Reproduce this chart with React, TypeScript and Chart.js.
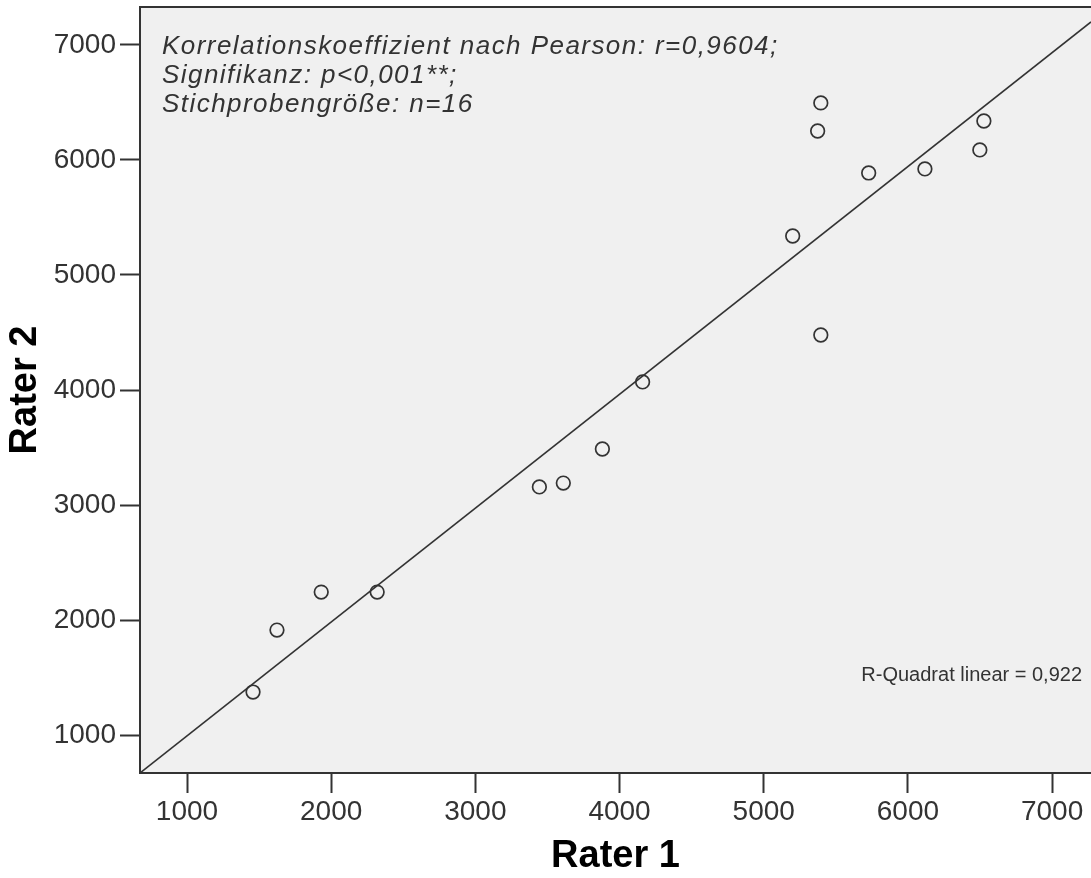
import React, { useEffect, useRef } from "react";
import { Chart, registerables } from "chart.js";

Chart.register(...registerables);

const rater1 = [1458, 1624, 1931, 2319, 3444, 3610, 3881, 4160, 5201, 5374, 5396, 5396, 5728, 6118, 6499, 6527];
const rater2 = [1374, 1913, 2243, 2243, 3157, 3191, 3487, 4070, 5339, 6252, 6496, 4478, 5887, 5922, 6087, 6339];
const fitX = [674, 7270];
const fitY = [670, 7200];
const xTickValues = [1000, 2000, 3000, 4000, 5000, 6000, 7000];
const yTickValues = [1000, 2000, 3000, 4000, 5000, 6000, 7000];
const xRange = [674, 7270];
const yRange = [670, 7330];
const xTitle = "Rater 1";
const yTitle = "Rater 2";
const annotationLines = [
  "Korrelationskoeffizient nach Pearson: r=0,9604;",
  "Signifikanz: p<0,001**;",
  "Stichprobengröße: n=16",
];
const rSquaredLabel = "R-Quadrat linear = 0,922";

const FONT = "'Liberation Sans', Arial, sans-serif";
const INK = "#333333";

const framePlugin = {
  id: "frame",
  beforeDraw(chart: any) {
    const { ctx, chartArea: a } = chart;
    ctx.save();
    ctx.fillStyle = "#f0f0f0";
    ctx.fillRect(a.left, a.top, a.right - a.left, a.bottom - a.top);
    ctx.restore();
  },
  afterDraw(chart: any) {
    const { ctx, chartArea: a } = chart;
    ctx.save();
    ctx.strokeStyle = INK;
    ctx.lineWidth = 2;
    ctx.beginPath();
    ctx.moveTo(a.left - 1, a.top);
    ctx.lineTo(a.right + 2, a.top);
    ctx.stroke();

    ctx.fillStyle = INK;
    ctx.textAlign = "left";
    ctx.textBaseline = "alphabetic";
    ctx.font = `italic 26px ${FONT}`;
    try {
      (ctx as any).letterSpacing = "1.45px";
    } catch (e) {}
    annotationLines.forEach((line, i) => {
      ctx.fillText(line, a.left + 22, a.top + 47 + i * 29);
    });
    try {
      (ctx as any).letterSpacing = "0px";
    } catch (e) {}

    ctx.font = `20px ${FONT}`;
    ctx.textAlign = "right";
    ctx.fillText(rSquaredLabel, a.right - 9, a.bottom - 92);
    ctx.restore();
  },
};

export default function App() {
  const canvasRef = useRef<HTMLCanvasElement | null>(null);

  useEffect(() => {
    document.body.style.margin = "0";
    const canvas = canvasRef.current;
    if (!canvas) return;

    const tickFont = { family: FONT, size: 28 };
    const titleFont = { family: FONT, size: 38, weight: "bold" as const, lineHeight: 1 };

    const chart = new Chart(canvas, {
      type: "scatter",
      data: {
        datasets: [
          {
            label: "Punkte",
            data: rater1.map((x, i) => ({ x, y: rater2[i] })),
            pointStyle: "circle",
            pointRadius: 6.8,
            pointBorderWidth: 1.7,
            borderColor: INK,
            backgroundColor: "rgba(0,0,0,0)",
            showLine: false,
          },
          {
            label: "Anpassungslinie",
            data: fitX.map((x, i) => ({ x, y: fitY[i] })),
            showLine: true,
            pointRadius: 0,
            borderColor: INK,
            borderWidth: 1.6,
            fill: false,
          },
        ],
      },
      options: {
        animation: false,
        responsive: true,
        maintainAspectRatio: false,
        layout: { padding: { top: 7, right: 0, bottom: 0, left: 0 }, autoPadding: false },
        plugins: { legend: { display: false }, tooltip: { enabled: false } },
        scales: {
          x: {
            type: "linear",
            min: xRange[0],
            max: xRange[1],
            afterBuildTicks: (s: any) => {
              s.ticks = xTickValues.map((v) => ({ value: v }));
            },
            afterFit: (s: any) => {
              s.height = 105;
              s.paddingLeft = 0;
              s.paddingRight = 0;
            },
            grid: { drawOnChartArea: false, drawTicks: true, tickLength: 20, tickWidth: 2, tickColor: INK },
            border: { display: true, color: INK, width: 2 },
            ticks: {
              font: tickFont,
              color: INK,
              padding: 2,
              maxRotation: 0,
              autoSkip: false,
              callback: (v: any) => String(v),
            },
            title: { display: true, text: xTitle, font: titleFont, color: "#000", padding: { top: 0, bottom: 2 } },
          },
          y: {
            type: "linear",
            min: yRange[0],
            max: yRange[1],
            afterBuildTicks: (s: any) => {
              s.ticks = yTickValues.map((v) => ({ value: v }));
            },
            afterFit: (s: any) => {
              s.width = 140;
              s.paddingTop = 0;
              s.paddingBottom = 0;
            },
            grid: { drawOnChartArea: false, drawTicks: true, tickLength: 20, tickWidth: 2, tickColor: INK },
            border: { display: true, color: INK, width: 2 },
            ticks: { font: tickFont, color: INK, padding: 4, autoSkip: false, callback: (v: any) => String(v) },
            title: { display: true, text: yTitle, font: titleFont, color: "#000", padding: { top: 7, bottom: 0 } },
          },
        },
      },
      plugins: [framePlugin],
    });

    return () => chart.destroy();
  }, []);

  return (
    <div style={{ position: "absolute", left: 0, top: 0, width: 1091, height: 878 }}>
      <canvas ref={canvasRef} />
    </div>
  );
}
